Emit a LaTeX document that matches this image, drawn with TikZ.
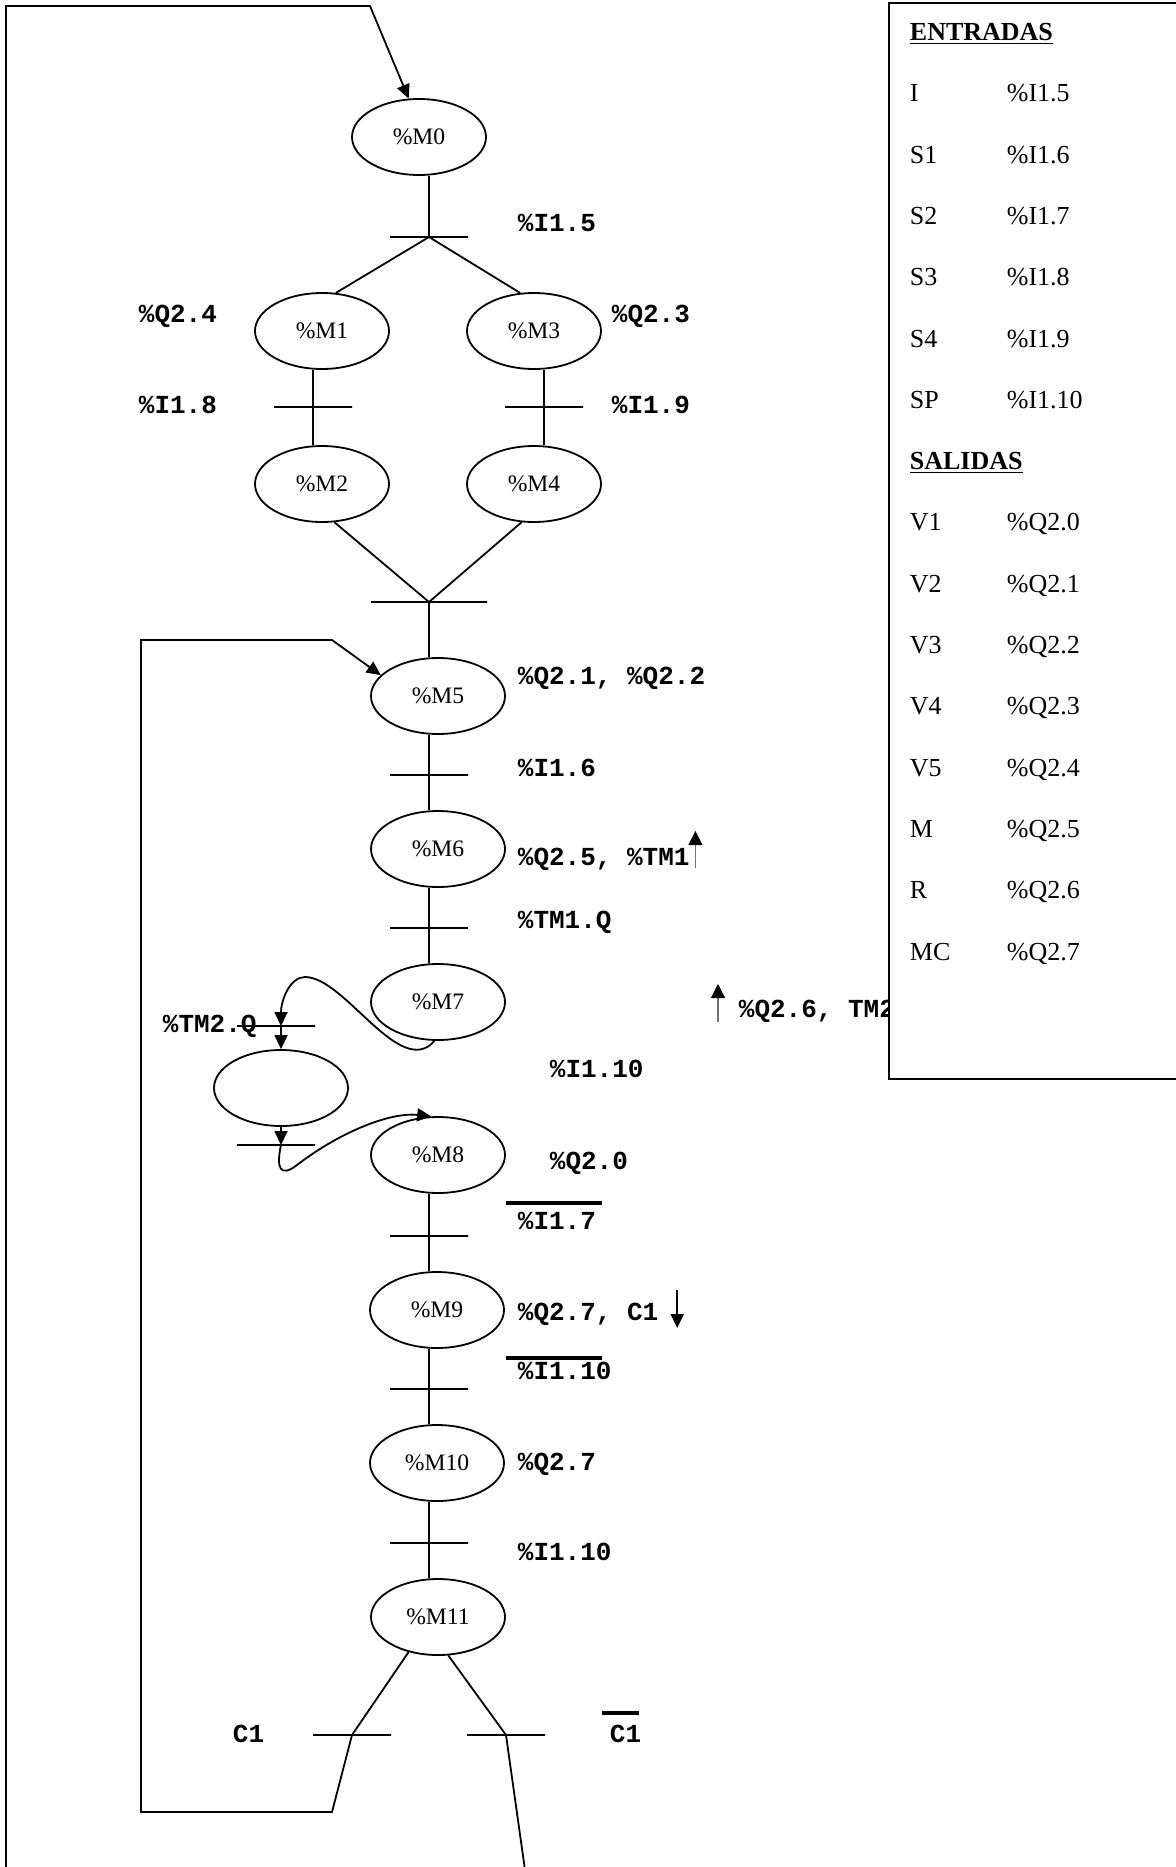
\documentclass[tikz,border=0pt]{standalone}
\usepackage{fontspec}
\setmainfont{Liberation Serif}
\newfontfamily\monof{Liberation Mono}
\usetikzlibrary{arrows.meta,shapes.geometric}

\begin{document}
\begin{tikzpicture}[
  x=0.5pt, y=-0.5pt,
  line width=0.9pt,
  stage/.style={draw, ellipse, minimum width=67pt, minimum height=38pt, inner sep=0pt, font=\fontsize{11.8}{14}\selectfont},
  trans/.style={draw, minimum width=39pt, minimum height=0pt, inner sep=0pt, outer sep=0pt},
  act/.style={anchor=west, inner sep=0pt, text height=7.5pt, text depth=0pt, font=\monof\bfseries\fontsize{13}{15}\selectfont},
  tabtxt/.style={anchor=west, inner sep=0pt, text height=8.5pt, text depth=0pt, font=\fontsize{13}{15}\selectfont},
  arrow/.style={-{Triangle[length=7pt,width=6.5pt]}},
  edge/.style={draw=black!55, line width=0.6pt, -{Triangle[length=7pt,width=7pt,color=black]}},
  ovl/.style={line width=1.8pt}
]
\useasboundingbox (0,0) rectangle (1176,1867);

% steps
\node[stage] (m0) at (419,137) {\%M0};
\node[stage] (m1) at (322,331) {\%M1};
\node[stage] (m3) at (534,331) {\%M3};
\node[stage] (m2) at (322,484) {\%M2};
\node[stage] (m4) at (534,484) {\%M4};
\node[stage] (m5) at (438,696) {\%M5};
\node[stage] (m6) at (438,849) {\%M6};
\node[stage] (m7) at (438,1002) {\%M7};
\node[stage] (mx) at (281,1088) {};
\node[stage] (m8) at (438,1155) {\%M8};
\node[stage] (m9) at (437,1310) {\%M9};
\node[stage] (m10) at (437,1463) {\%M10};
\node[stage] (m11) at (438,1617) {\%M11};

% actions and receptivities
\node[act] (i15) at (517,224) {\%I1.5};
\node[act] (q24) at (138,315) {\%Q2.4};
\node[act] (q23) at (611,315) {\%Q2.3};
\node[act] (i18) at (138,406) {\%I1.8};
\node[act] (i19) at (611,406) {\%I1.9};
\node[act] (q21) at (517,677) {\%Q2.1, \%Q2.2};
\node[act] (i16) at (517,769) {\%I1.6};
\node[act] (q25) at (517,858) {\%Q2.5, \%TM1};
\node[act] (tm1q) at (517,921) {\%TM1.Q};
\node[act] (q26) at (738,1010) {\%Q2.6, TM2};
\node[act] (tm2q) at (162,1025) {\%TM2.Q};
\node[act] (i110a) at (549,1070) {\%I1.10};
\node[act] (q20) at (549,1162) {\%Q2.0};
\node[act] (i17) at (517,1222) {\%I1.7};
\node[act] (q27a) at (517,1313) {\%Q2.7, C1};
\node[act] (i110b) at (517,1372) {\%I1.10};
\node[act] (q27b) at (517,1463) {\%Q2.7};
\node[act] (i110c) at (517,1553) {\%I1.10};
\node[act] (c1) at (232,1735) {C1};
\node[act] (nc1) at (609,1735) {C1};

\draw[edge] (q25.east) ++(5,10) -- ++(0,-37);
\draw[edge] (q26.west) ++(-20,12) -- ++(0,-38);
\draw[arrow] (q27a.east) ++(18,-23) -- ++(0,38);
\draw[ovl] (506,1203) -- (602,1203);
\draw[ovl] (506,1358) -- (602,1358);
\draw[ovl] (602,1713) -- (639,1713);

% transitions
\node[trans] (t0) at (429,237) {};
\node[trans] (t1) at (313,407) {};
\node[trans] (t2) at (544,407) {};
\node[trans, minimum width=58pt] (t3) at (429,602) {};
\node[trans] (t4) at (429,775) {};
\node[trans] (t5) at (429,928) {};
\node[trans] (t6) at (276,1026) {};
\node[trans] (t7) at (276,1145) {};
\node[trans] (t8) at (429,1236) {};
\node[trans] (t9) at (429,1389) {};
\node[trans] (t10) at (429,1543) {};
\node[trans] (t11) at (352,1735) {};
\node[trans] (t12) at (506,1735) {};

\coordinate (entry) at (6,1870);
\coordinate (back) at (141,640);
\coordinate (exit) at (525,1870);

\draw (t0 |- m0.south) -- (t0.center);
\draw (t0.center) -- (m1.70);
\draw (t0.center) -- (m3.110);
\draw (t1 |- m1.south) -- (t1 |- m2.north);
\draw (t2 |- m3.south) -- (t2 |- m4.north);
\draw (m2.288) -- (t3.center) -- (m4.252);
\draw (t3.center) -- (t3 |- m5.north);
\draw (t4 |- m5.south) -- (t4 |- m6.north);
\draw (t5 |- m6.south) -- (t5 |- m7.north);
\draw (t8 |- m8.south) -- (t8 |- m9.north);
\draw (t9 |- m9.south) -- (t9 |- m10.north);
\draw (t10 |- m10.south) -- (t10 |- m11.north);

\draw[arrow] (m7.265) .. controls (400,1080) and (345,977) .. (305,977)
  .. controls (290,977) and (281,1000) .. (t6 -| mx.north);
\draw[arrow] (t6 -| mx.north) -- (mx.north);
\draw[arrow] (mx.south) -- (t7 -| mx.south);
\draw[arrow] (t7 -| mx.south) .. controls (276,1168) and (280,1178) .. (297,1165)
  .. controls (340,1132) and (390,1112) .. (m8.100);

\draw[arrow] (m11.230) -- (t11.center) -- ++(-20,77) -| (back) -- ++(191,0) -- (m5.160);
\draw (m11.285) -- (t12.center) -- (exit);
\draw[arrow] (entry) |- (370,6) -- (m0.105);

% table
\draw[fill=white] (889,3) rectangle (1180,1079);
\node[tabtxt] (ent) at (909,32) {\underline{\textbf{ENTRADAS}}};
\node[tabtxt] (e1) at (909,93) {I};    \node[tabtxt] (e1v) at (1006,93) {\%I1.5};
\node[tabtxt] (e2) at (909,155) {S1};  \node[tabtxt] (e2v) at (1006,155) {\%I1.6};
\node[tabtxt] (e3) at (909,216) {S2};  \node[tabtxt] (e3v) at (1006,216) {\%I1.7};
\node[tabtxt] (e4) at (909,277) {S3};  \node[tabtxt] (e4v) at (1006,277) {\%I1.8};
\node[tabtxt] (e5) at (909,339) {S4};  \node[tabtxt] (e5v) at (1006,339) {\%I1.9};
\node[tabtxt] (e6) at (909,400) {SP};  \node[tabtxt] (e6v) at (1006,400) {\%I1.10};
\node[tabtxt] (sal) at (909,461) {\underline{\textbf{SALIDAS}}};
\node[tabtxt] (s1) at (909,522) {V1};  \node[tabtxt] (s1v) at (1006,522) {\%Q2.0};
\node[tabtxt] (s2) at (909,584) {V2};  \node[tabtxt] (s2v) at (1006,584) {\%Q2.1};
\node[tabtxt] (s3) at (909,645) {V3};  \node[tabtxt] (s3v) at (1006,645) {\%Q2.2};
\node[tabtxt] (s4) at (909,706) {V4};  \node[tabtxt] (s4v) at (1006,706) {\%Q2.3};
\node[tabtxt] (s5) at (909,768) {V5};  \node[tabtxt] (s5v) at (1006,768) {\%Q2.4};
\node[tabtxt] (s6) at (909,829) {M};   \node[tabtxt] (s6v) at (1006,829) {\%Q2.5};
\node[tabtxt] (s7) at (909,890) {R};   \node[tabtxt] (s7v) at (1006,890) {\%Q2.6};
\node[tabtxt] (s8) at (909,952) {MC};  \node[tabtxt] (s8v) at (1006,952) {\%Q2.7};

\end{tikzpicture}
\end{document}
